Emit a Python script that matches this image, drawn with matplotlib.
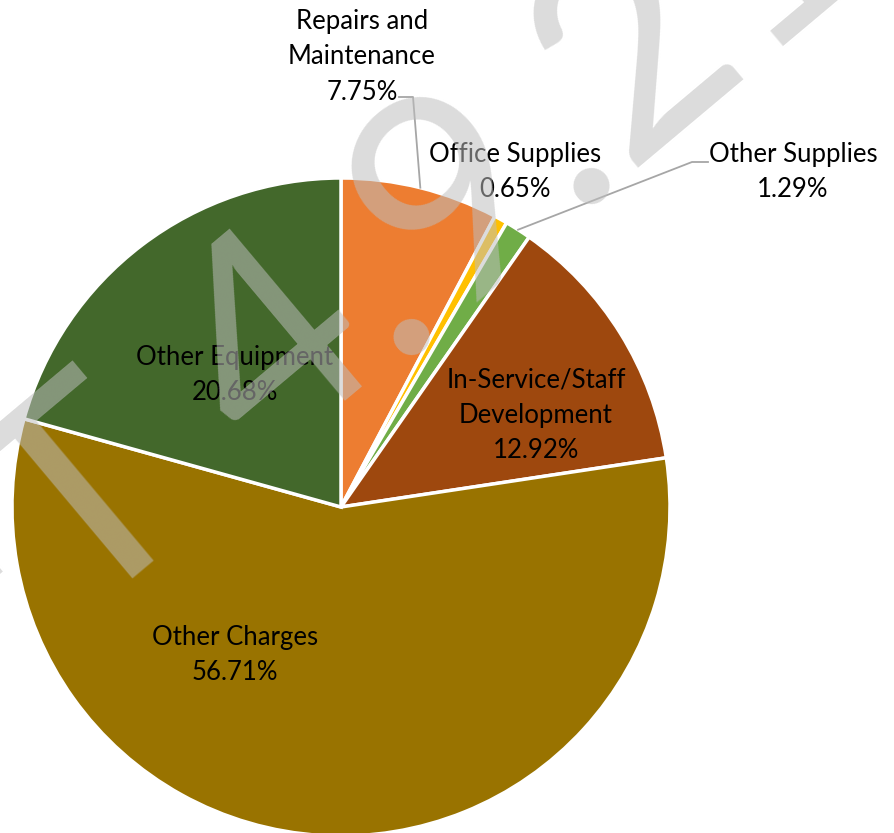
import numpy as np
import matplotlib
matplotlib.use("Agg")
import matplotlib.pyplot as plt

categories = ["Repairs and\nMaintenance", "Office Supplies", "Other Supplies",
              "In-Service/Staff\nDevelopment", "Other Charges", "Other Equipment"]
values = [7.75, 0.65, 1.29, 12.92, 56.71, 20.68]
colors = ["#ED7D31", "#FFC000", "#70AD47", "#9E480E", "#997300", "#43682B"]

W, H = 895, 833
fig = plt.figure(figsize=(W / 100, H / 100), dpi=100)
cx, cy, R = 341, 507, 329
ax = fig.add_axes([(cx - R) / W, (H - cy - R) / H, 2 * R / W, 2 * R / H])

wedges, _ = ax.pie(values, colors=colors, startangle=90, counterclock=False,
                   radius=1.0, center=(0, 0),
                   wedgeprops=dict(edgecolor="white", linewidth=2.5))
ax.set_xlim(-1, 1)
ax.set_ylim(-1, 1)
ax.set_aspect("equal")
ax.axis("off")

FONT = ["Lato", "DejaVu Sans"]
fs = 18.5

def px2d(px, py):
    return ((px - cx) / R, (cy - py) / R)

# label positions (layout), in pixel coords of the reference
label_pos = [(362, 57), (515, 172), (793, 172), (536, 415), (235, 655), (235, 375)]
for cat, v, (px, py) in zip(categories, values, label_pos):
    x, y = px2d(px, py)
    ax.text(x, y, f"{cat}\n{v:.2f}%", ha="center", va="center", fontsize=fs,
            family=FONT, color="black", linespacing=1.5, zorder=5, clip_on=False)

# leader lines
cum = np.cumsum([0] + values)
def mid_angle(i):
    frac = (cum[i] + values[i] / 2) / 100.0
    return np.deg2rad(90 - 360 * frac)

lc = "#A6A6A6"
a = mid_angle(0)
ex, ey = np.cos(a), np.sin(a)
p1 = px2d(399, 97); p2 = px2d(413, 97)
ax.plot([p1[0], p2[0], ex], [p1[1], p2[1], ey], color=lc, lw=1.3, clip_on=False, zorder=4)
a = mid_angle(2)
ex, ey = np.cos(a), np.sin(a)
p1 = px2d(708, 162); p2 = px2d(692, 162)
ax.plot([p1[0], p2[0], ex], [p1[1], p2[1], ey], color=lc, lw=1.3, clip_on=False, zorder=4)

# watermark
wm_kw = dict(fontsize=207, family=FONT, color=(190/255, 190/255, 190/255), alpha=0.54,
             rotation=40, rotation_mode="anchor", va="baseline", zorder=10)
P = (393 / W, 1 - 360 / H)
fig.text(P[0], P[1], "DRAFT 4", ha="right", **wm_kw)
fig.text(P[0], P[1], ".9.21", ha="left", **wm_kw)

fig.savefig("out.png", dpi=100)
